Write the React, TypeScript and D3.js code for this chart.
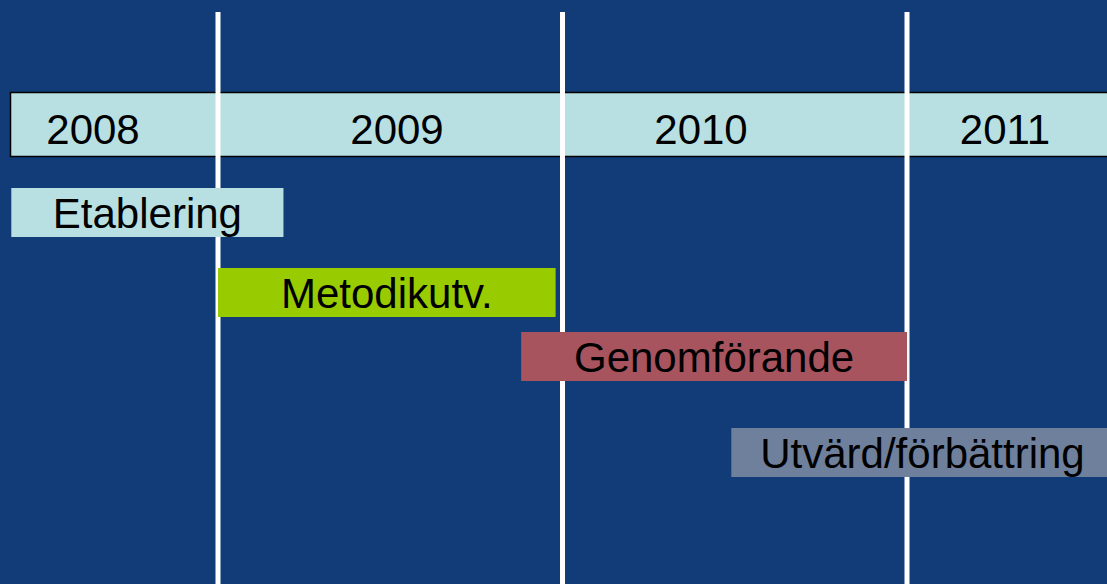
import React, { useEffect, useRef } from 'react';
import * as d3 from 'd3';

// header labels
const years = ['2008', '2009', '2010', '2011'];
// year boundaries (white dividers)
const dividers = [2009, 2010, 2011];

// project phases
const phases = ['Etablering', 'Metodikutv.', 'Genomförande', 'Utvärd/förbättring'];
const phaseStart = [2008.4, 2009.0, 2009.88, 2010.49];
const phaseEnd = [2009.19, 2009.98, 2011.0, 2011.6];
const phaseLane = [0, 1.25, 2.25, 3.75];
const phaseColors = ['#b8e0e3', '#99cc00', '#a8545e', '#6f809c'];

const W = 1107;
const H = 584;

const Timeline: React.FC = () => {
    const svgRef = useRef<SVGSVGElement>(null);

    useEffect(() => {
        const svg = d3.select(svgRef.current);
        svg.selectAll('*').remove();

        const font = '"Liberation Sans", Arial, sans-serif';

        // time axis: one year ~ 344.5px
        const x = d3.scaleLinear().domain([2009, 2011]).range([218, 907]);
        const xLabel = d3.scalePoint<string>().domain(years).range([93, 1005]);
        const y = d3.scaleLinear().domain([0, 3.75]).range([188, 428]);
        const barH = 49;

        svg.append('rect')
            .attr('width', W)
            .attr('height', H)
            .attr('fill', '#123c78');

        // year band
        svg.append('rect')
            .attr('x', 10.5)
            .attr('y', 92.5)
            .attr('width', W + 10)
            .attr('height', 64)
            .attr('fill', '#b8e0e3')
            .attr('stroke', '#000')
            .attr('stroke-width', 1.5);

        svg.selectAll('.year')
            .data(years)
            .enter()
            .append('text')
            .attr('class', 'year')
            .attr('x', d => xLabel(d) as number)
            .attr('y', 144)
            .attr('text-anchor', 'middle')
            .style('font-family', font)
            .style('font-size', '42px')
            .style('fill', '#000')
            .text(d => d);

        // white year dividers
        svg.selectAll('.divider')
            .data(dividers)
            .enter()
            .append('line')
            .attr('class', 'divider')
            .attr('x1', d => x(d))
            .attr('x2', d => x(d))
            .attr('y1', 12)
            .attr('y2', H)
            .attr('stroke', '#fff')
            .attr('stroke-width', 5);

        // phase bars
        const rows = phases.map((name, i) => ({
            name,
            start: phaseStart[i],
            end: phaseEnd[i],
            lane: phaseLane[i],
            color: phaseColors[i]
        }));

        const bars = svg.selectAll('.phase')
            .data(rows)
            .enter()
            .append('g')
            .attr('class', 'phase');

        bars.append('rect')
            .attr('x', d => x(d.start))
            .attr('y', d => y(d.lane))
            .attr('width', d => x(d.end) - x(d.start))
            .attr('height', barH)
            .attr('fill', d => d.color);

        bars.append('text')
            .attr('x', d => (x(d.start) + x(d.end)) / 2)
            .attr('y', d => y(d.lane) + barH / 2 + 15)
            .attr('text-anchor', 'middle')
            .style('font-family', font)
            .style('font-size', '42px')
            .style('fill', '#000')
            .text(d => d.name);
    }, []);

    return (
        <svg
            ref={svgRef}
            width={W}
            height={H}
            style={{ position: 'absolute', left: 0, top: 0, display: 'block' }}
        />
    );
};

export default function App() {
    return <Timeline />;
}
